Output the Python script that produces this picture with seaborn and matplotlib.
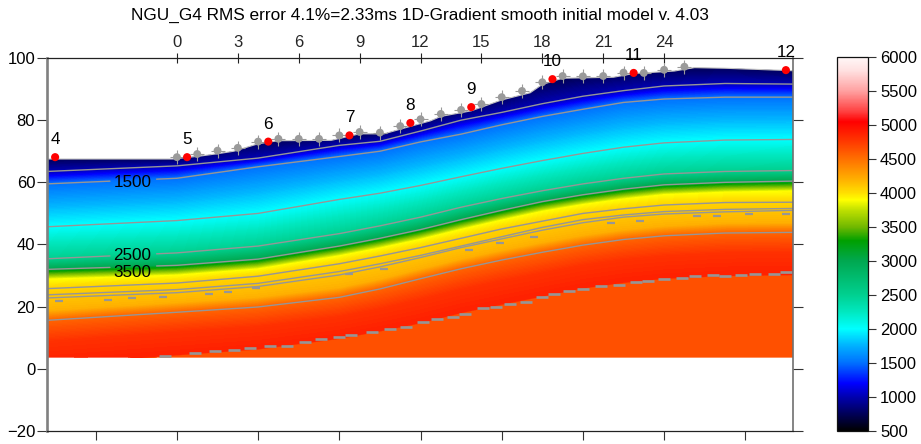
import numpy as np
import seaborn as sns
import matplotlib
matplotlib.use('Agg')
import matplotlib.pyplot as plt
from matplotlib.cm import ScalarMappable
from matplotlib.colors import LinearSegmentedColormap, Normalize
from matplotlib.patches import Polygon

# stations along the profile, elevations of each velocity horizon read at them
stations = [-6.4, 0, 4, 8, 10, 12, 14, 16, 18, 20, 22, 24, 27, 30.4]
surface = [67.5, 67.7, 73.1, 75, 76, 80.3, 83.3, 87.4, 92, 94, 95.2, 96.2, 97, 95.9]
iso1000 = [63.5, 65.3, 67.8, 71.9, 73.2, 76.5, 80, 82.5, 85.3, 87.7, 89.5, 91, 91.8, 91.6]
iso1500 = [59.5, 61.3, 65, 68.3, 70, 73, 75.5, 78.5, 81.2, 83.5, 85.7, 86.8, 87.4, 87.4]
iso2000 = [45.7, 47.7, 50, 54.5, 56.5, 59, 61.8, 64.5, 67, 69.3, 71.3, 72.7, 73.6, 73.8]
iso2500 = [35.4, 37.3, 39.5, 43.5, 46, 48.8, 52, 54.8, 57.3, 59.5, 61.3, 62.7, 63.5, 63.8]
iso3000 = [32, 33.3, 35.3, 39.5, 42, 44.8, 48, 51, 53.8, 56, 57.8, 59.2, 60, 60.4]
iso3500 = [25.8, 27.6, 29.8, 33.8, 36.3, 39, 42, 45, 47.5, 50, 51.5, 52.7, 53.5, 53.6]
iso3800 = [23.8, 25.5, 27.5, 31.3, 33.8, 36.5, 39.5, 42.5, 45.5, 48, 49.5, 50.6, 51.3, 51.6]
iso4000 = [22.8, 24.5, 26.5, 30.2, 32.8, 35.8, 39, 41.8, 44.6, 47, 48.8, 49.8, 50.5, 51]
iso4500 = [15.6, 18.2, 19.9, 23, 25.7, 29, 32.2, 35, 37.5, 39.8, 41.6, 42.8, 43.7, 43.9]
iso5000 = [1.5, 4.7, 6.6, 10, 12.4, 15, 18.3, 21, 23.6, 26.2, 28, 29.3, 30.2, 30.5]

# extra colour horizons, the field colours do not sit exactly on the grey lines
col3300 = [31.2, 32.5, 34.5, 38.7, 41.2, 44, 47.2, 50.2, 53, 55.2, 57, 58.4, 59.2, 59.6]
col3500 = [30.2, 31.5, 33.5, 37.7, 40.2, 43, 46.2, 49.2, 52, 54.2, 56, 57.4, 58.2, 58.6]
col3900 = [28.7, 30, 32, 36.2, 38.7, 41.5, 44.7, 47.7, 50.5, 52.7, 54.5, 55.9, 56.7, 57.1]
col4200 = [18.6, 21.2, 22.9, 26, 28.7, 32, 35.2, 38, 40.5, 42.8, 44.6, 45.8, 46.7, 46.9]
col4800 = [8.5, 11.5, 13.3, 16.5, 19, 22, 25.2, 28, 30.5, 33, 34.8, 36, 37, 37.2]

# geophones and shots
geo_x = list(range(26))
geo_y = [68.1, 69.1, 70.2, 71.1, 73.1, 74, 74, 74, 75.1, 76.2, 76, 78.1, 80.3, 82,
         83.3, 85.2, 87.4, 89.4, 92.2, 94.2, 94.1, 94.2, 95.3, 95.2, 96.2, 97.2]
shot_x = [-6, 0.5, 4.5, 8.5, 11.5, 14.5, 18.5, 22.5, 30]
shot_y = [68.1, 68.1, 73.1, 75.1, 79.1, 84.2, 93.2, 95.2, 96.1]
shot_names = ['4', '5', '6', '7', '8', '9', '10', '11', '12']

# outline of the model top
top_x = [-6.4, -0.2, 1.2, 2, 2.8, 4, 5, 7.6, 9, 10.2, 11.5, 12.5, 13, 14.5, 16, 17.4, 18, 19,
         21.5, 22.5, 24.5, 25.5, 27, 30.4]
top_y = [67.5, 67.5, 68.5, 69.2, 70, 72.4, 73.4, 73.5, 75.6, 75.6, 78, 79.8, 81.2, 83,
         86.5, 88.8, 91.5, 93.5, 93.8, 95, 95.8, 96.9, 96.7, 95.9]
model_bottom = 3.6

# short grey dashes from the contouring
dash4000_x = [-5.8, -3.4, -2.2, -0.7, 1.6, 2.5, 3.9, 8.5, 10.2, 14.4, 15.9, 17.6, 21.4, 22.8, 25.6, 26.6, 28.2, 30]
dash4000_y = [21.8, 22.3, 22.8, 23.2, 24.2, 24.8, 26.1, 30.4, 32.2, 38.2, 40.5, 42.4, 46.9, 47.6, 49.3, 49.3, 49.8, 49.8]
dash5000_x = [-0.6, 0.9, 1.9, 2.8, 3.6, 4.6, 5.4, 6.3, 7.1, 8, 8.6, 9.6, 10.5, 11.3, 12.1, 12.8, 13.6, 14.2, 15.1,
              15.7, 16.4, 17.2, 18, 18.6, 19.3, 20, 20.9, 21.8, 22.6, 23.2, 24, 24.9, 25.5, 26.4, 27, 27.8, 28.5, 29.4, 30]
dash5000_y = [4.2, 5, 5.6, 6, 6.6, 7.3, 7.5, 8.6, 9.6, 10.3, 11, 11.8, 12.8, 13.5, 15, 16, 16.8, 17.8, 19.5,
              20, 20.7, 21.5, 23.2, 24.2, 25, 25.6, 26.5, 27, 28, 28.3, 29, 29.3, 30, 30.2, 29.8, 30.2, 30.5, 30.6, 31]

# colour scale
cmap_values = [500, 800, 1000, 1200, 1500, 1750, 2000, 2250, 2500, 3000, 3300, 3500, 3750, 3900, 4000,
               4200, 4500, 4800, 5050, 5200, 5500, 5800, 6000]
cmap_colors = ['#000000', '#00006a', '#0000b0', '#0000ff', '#0070ff', '#00b0ff', '#00ffff', '#00e8c0', '#00d090',
               '#00a850', '#00a000', '#70b800', '#c0e000', '#ffff00', '#ffe000', '#ffb000', '#ff7000', '#ff3000',
               '#ff0000', '#ff4040', '#ffa0a0', '#ffe0e0', '#fff8f8']
cbar_ticks = [500, 1000, 1500, 2000, 2500, 3000, 3500, 4000, 4500, 5000, 5500, 6000]

sns.set_theme(style='white')
plt.rcParams['font.family'] = ['Liberation Sans', 'DejaVu Sans']

W, H = 921, 444
fig = plt.figure(figsize=(W / 100, H / 100), dpi=100)
ax = fig.add_axes([47 / W, 1 - 431 / H, (793 - 47) / W, (431 - 58) / H])
cax = fig.add_axes([836.5 / W, 1 - 431 / H, 31 / W, 374 / H])

pos = np.array(cmap_values)
cmap = LinearSegmentedColormap.from_list('tomo', list(zip((pos - 500) / 5500, cmap_colors)), N=1024)
norm = Normalize(500, 6000)

# velocity field: a curved mesh with one row per horizon, bottom to top
rows = [([-5] * len(stations), 4650),
        (list(np.array(iso5000) - 0.4), 4650),
        (iso5000, 4880),
        (col4800, 4800),
        (iso4500, 4550),
        (col4200, 4200),
        (iso3500, 4050),
        (col3900, 3900),
        (col3500, 3500),
        (col3300, 3300),
        (iso3000, 3000),
        (iso2500, 2500),
        (iso2000, 2000),
        (iso1500, 1500),
        (iso1000, 1000),
        (surface, 750),
        ([105] * len(stations), 750)]
mesh_y = np.array([r[0] for r in rows])
mesh_x = np.tile(stations, (len(rows), 1))
mesh_v = np.tile(np.array([r[1] for r in rows])[:, None], (1, len(stations)))
field = ax.contourf(mesh_x, mesh_y, mesh_v, levels=np.arange(500, 6001, 15), cmap=cmap, norm=norm, zorder=1)

outline = list(zip(top_x, top_y)) + [(30.4, model_bottom), (-6.4, model_bottom)]
clip = Polygon(outline, closed=True, transform=ax.transData)
field.set_clip_path(clip)

# grey velocity lines, three of them break around the text labels
grey = '#969696'
gap = (-3.3, -1.0)


def draw_line(xs, ys):
    sns.lineplot(x=xs, y=ys, color=grey, linewidth=1.0, estimator=None, sort=False,
                 legend=False, ax=ax, zorder=2)


for line in [iso1000, iso1500, iso2000, iso2500, iso3000, iso3500, iso3800, iso4000, iso4500]:
    if line is iso1500 or line is iso2500 or line is iso3000:
        a = np.interp(gap[0], stations, line)
        b = np.interp(gap[1], stations, line)
        draw_line([stations[0], gap[0]], [line[0], a])
        draw_line([gap[1]] + stations[1:], [b] + line[1:])
    else:
        draw_line(stations, line)

for dx, dy, s, lw in [(dash4000_x, dash4000_y, 30, 1.6), (dash5000_x, dash5000_y, 75, 1.9)]:
    sns.scatterplot(x=dx, y=dy, marker='_', s=s, color=grey, linewidth=lw, legend=False, ax=ax, zorder=2)

sns.lineplot(x=top_x, y=top_y, color='#c4c4c4', linewidth=0.8, estimator=None, sort=False, legend=False, ax=ax, zorder=2)

# geophones and shot points
sns.scatterplot(x=geo_x, y=geo_y, marker='+', s=100, color='#9a9a9a', linewidth=0.8, legend=False, ax=ax, zorder=3)
sns.scatterplot(x=geo_x, y=geo_y, marker='o', s=32, color='#9a9a9a', edgecolor='none', legend=False, ax=ax, zorder=3)
sns.scatterplot(x=shot_x, y=shot_y, marker='o', s=34, color='#ff0000', edgecolor='none', legend=False, ax=ax, zorder=4)

for sx, sy, name in zip(shot_x, shot_y, shot_names):
    ax.annotate(name, (sx, sy), xytext=(0, 9.4), textcoords='offset points', ha='center', va='baseline',
                fontsize=12.3, color='black', zorder=5, annotation_clip=False)

for label, ly in [('1500', 60.1), ('2500', 36.5), ('3500', 31.1)]:
    ax.text(-2.2, ly, label, ha='center', va='center', fontsize=12.3, color='black', zorder=5)

ax.set_xlim(-6.4, 30.35)
ax.set_ylim(-20, 100)
ax.set_facecolor('white')

# axes and ticks
ax.set_yticks([-20, 0, 20, 40, 60, 80, 100])
ax.set_xticks(range(-4, 29, 4))
ax.tick_params(axis='y', left=True, right=True, direction='out', length=7.5, width=0.8, color='#333333',
               labelsize=12, labelcolor='black', pad=1)
ax.tick_params(axis='x', bottom=True, direction='out', length=6.5, width=0.8, color='#333333', labelbottom=False)
for side in ['top', 'bottom']:
    ax.spines[side].set_color('#222222')
    ax.spines[side].set_linewidth(0.9)
ax.spines['left'].set_color('#808080')
ax.spines['left'].set_linewidth(1.9)
ax.spines['right'].set_color('#707070')
ax.spines['right'].set_linewidth(1.2)
ax.spines['left'].set_visible(True)
ax.spines['right'].set_visible(True)

top = ax.secondary_xaxis('top')
top.set_xticks(range(0, 25, 3))
top.tick_params(direction='inout', length=7.5, width=0.8, color='#222222', labelsize=12, pad=2)
top.spines['top'].set_visible(False)

cb = fig.colorbar(ScalarMappable(norm=norm, cmap=cmap), cax=cax, ticks=cbar_ticks)
cb.outline.set_edgecolor('#111111')
cb.outline.set_linewidth(0.9)
cax.tick_params(right=True, direction='out', length=5.5, width=0.8, color='#333333', labelsize=12, pad=3.5,
                labelcolor='black')

fig.text(420 / W, 1 - 15 / H, 'NGU_G4 RMS error 4.1%=2.33ms 1D-Gradient smooth initial model v. 4.03',
         ha='center', va='center', fontsize=12.4, color='black')

fig.savefig('out.png', dpi=100)
